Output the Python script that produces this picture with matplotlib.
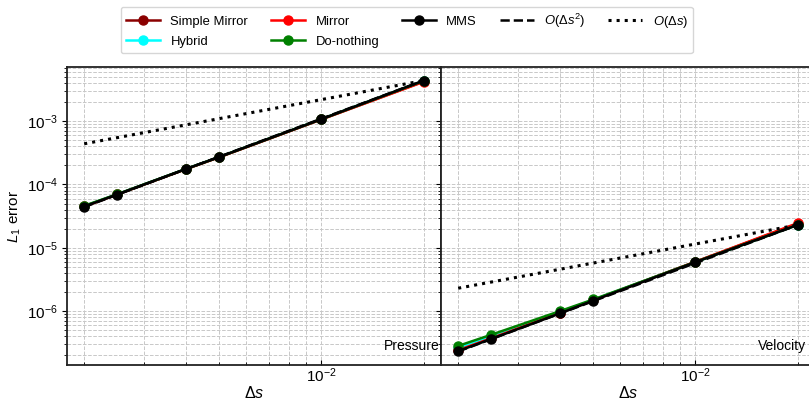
import numpy as np
import matplotlib
matplotlib.use("Agg")
import matplotlib.pyplot as plt

plt.rcParams['font.family'] = ['Liberation Sans', 'DejaVu Sans']
plt.rcParams['mathtext.fontset'] = 'custom'
plt.rcParams['mathtext.rm'] = 'Liberation Sans'
plt.rcParams['mathtext.it'] = 'Liberation Sans:italic'
plt.rcParams['mathtext.bf'] = 'Liberation Sans:bold'
plt.rcParams['font.size'] = 10.5

# grid spacing
ds = [0.002, 0.0025, 0.004, 0.005, 0.01, 0.02]

# pressure L1 errors
p_simple = [4.5e-5, 6.95e-5, 1.76e-4, 2.70e-4, 1.07e-3, 4.25e-3]
p_mirror = [4.5e-5, 6.95e-5, 1.76e-4, 2.70e-4, 1.07e-3, 4.20e-3]
p_hybrid = [4.55e-5, 7.0e-5, 1.77e-4, 2.72e-4, 1.08e-3, 4.35e-3]
p_donothing = [4.6e-5, 7.0e-5, 1.77e-4, 2.72e-4, 1.08e-3, 4.35e-3]
p_mms = [4.48e-5, 6.93e-5, 1.77e-4, 2.72e-4, 1.08e-3, 4.40e-3]

# velocity L1 errors
v_simple = [2.4e-7, 3.7e-7, 9.4e-7, 1.48e-6, 6.0e-6, 2.40e-5]
v_mirror = [2.4e-7, 3.7e-7, 9.4e-7, 1.48e-6, 6.0e-6, 2.45e-5]
v_hybrid = [2.6e-7, 3.95e-7, 9.7e-7, 1.5e-6, 5.95e-6, 2.32e-5]
v_donothing = [2.8e-7, 4.2e-7, 1.0e-6, 1.52e-6, 5.95e-6, 2.30e-5]
v_mms = [2.32e-7, 3.6e-7, 9.2e-7, 1.46e-6, 5.93e-6, 2.29e-5]

# reference slopes (end points)
ref_ds = [0.002, 0.02]
p_ref2 = [4.4e-5, 4.4e-3]
p_ref1 = [4.4e-4, 4.4e-3]
v_ref2 = [2.29e-7, 2.29e-5]
v_ref1 = [2.29e-6, 2.29e-5]

fig, axes = plt.subplots(1, 2, sharey=True, figsize=(8.09, 4.01), dpi=100)
fig.subplots_adjust(left=67/809, right=815/809, bottom=1-365/401, top=1-67/401, wspace=0)

panels = [
    (axes[0], p_simple, p_mirror, p_hybrid, p_donothing, p_mms, p_ref2, p_ref1, 'Pressure', 0.997),
    (axes[1], v_simple, v_mirror, v_hybrid, v_donothing, v_mms, v_ref2, v_ref1, 'Velocity', 0.976),
]

for ax, s, m, h, d, mms, r2, r1, name, tx in panels:
    kw = dict(marker='o', markersize=6.5, linewidth=1.8)
    ax.loglog(ds, s, color='darkred', label='Simple Mirror', **kw)
    ax.loglog(ds, h, color='cyan', label='Hybrid', **kw)
    ax.loglog(ds, m, color='red', label='Mirror', **kw)
    ax.loglog(ds, d, color='green', label='Do-nothing', **kw)
    ax.loglog(ds, mms, color='black', label='MMS', **kw)
    ax.loglog(ref_ds, r2, 'k--', linewidth=1.8, label=r'$O(\Delta s^2)$')
    ax.loglog(ref_ds, r1, 'k:', linewidth=2.2, label=r'$O(\Delta s)$')
    ax.grid(True, which='both', linestyle='--', color='#c8c8c8', linewidth=0.7)
    ax.set_xlabel(r'$\Delta s$', fontsize=11.5, labelpad=0)
    ax.text(tx, 0.064, name, transform=ax.transAxes, ha='right', va='center', fontsize=10)
    ax.tick_params(labelsize=11)
    ax.tick_params(axis='x', which='both', direction='in', pad=1)
    ax.tick_params(axis='y', which='major', length=3.5, pad=3)
    for sp in ax.spines.values():
        sp.set_linewidth(1.3)
        sp.set_color('#222222')

axes[0].set_ylabel(r'$L_1$ error', fontsize=11, labelpad=3)
axes[0].set_xlim(0.00178, 0.0225)
axes[1].set_xlim(0.00178, 0.0225)

handles, labels = axes[0].get_legend_handles_labels()
fig.legend(handles, labels,
           loc='upper center', bbox_to_anchor=(0.503, 1.0), ncol=5,
           fontsize=9.4, frameon=True, handlelength=2.6, columnspacing=1.75,
           labelspacing=0.6)

fig.savefig('out.png', dpi=100)
